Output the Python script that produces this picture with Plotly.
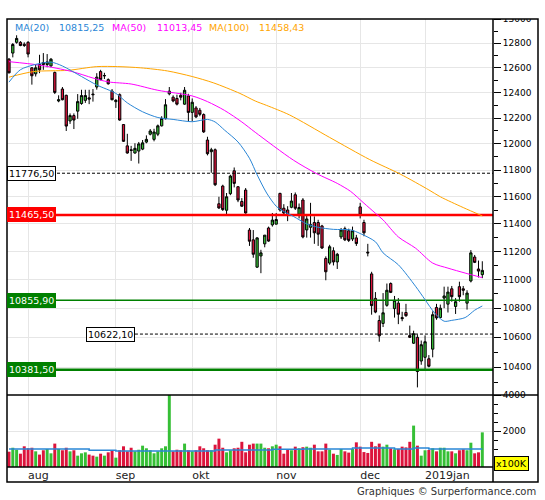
import math
import plotly.graph_objects as go

# ---------------- data ----------------
opens = [12670, 12720, 12808, 12808, 12792, 12808, 12600, 12552, 12627, 12643,
         12627, 12616, 12563, 12335, 12430, 12380, 12178, 12220, 12255, 12315,
         12340, 12360, 12390, 12446, 12570, 12535, 12505, 12413, 12330, 12385,
         12150, 11985, 11955, 11930, 11945, 11960, 12014, 12075, 12035, 12075,
         12140, 12195, 12392, 12365, 12355, 12380, 12310, 12375, 12245, 12280,
         12262, 12228, 12030, 11940, 11955, 11548, 11680, 11500, 11623, 11795,
         11675, 11565, 11650, 11355, 11284, 11088, 11168, 11255, 11370, 11393,
         11398, 11625, 11515, 11502, 11522, 11615, 11470, 11576, 11356, 11375,
         11410, 11410, 11385, 11150, 11117, 11205, 11125, 11305, 11365, 11350,
         11290, 11298, 11525, 11410, 11195, 11040, 10868, 10715, 10695, 10820,
         10972, 10797, 10835, 10735, 10770, 10612, 10560, 10600, 10440, 10465,
         10455, 10520, 10805, 10735, 10870, 10828, 10935, 10812, 10950, 10935,
         10835, 10990, 11160, 11075, 11035]
highs = [12680, 12802, 12866, 12818, 12808, 12818, 12605, 12627, 12706, 12720,
         12712, 12680, 12570, 12380, 12446, 12385, 12237, 12237, 12390, 12424,
         12424, 12424, 12430, 12557, 12584, 12560, 12515, 12430, 12350, 12395,
         12150, 12078, 11985, 12005, 12015, 12030, 12066, 12115, 12117, 12150,
         12215, 12350, 12446, 12380, 12385, 12400, 12446, 12392, 12355, 12295,
         12280, 12237, 12055, 11970, 11965, 11600, 11690, 11628, 11765, 11820,
         11680, 11590, 11665, 11370, 11355, 11303, 11212, 11318, 11380, 11480,
         11480, 11630, 11545, 11530, 11628, 11632, 11550, 11590, 11460, 11555,
         11455, 11430, 11393, 11165, 11248, 11230, 11190, 11370, 11380, 11365,
         11380, 11320, 11555, 11430, 11255, 11055, 10912, 10750, 10905, 10972,
         10980, 10885, 10870, 10775, 10830, 10680, 10645, 10620, 10578, 10613,
         10480, 10778, 10830, 10825, 10950, 10950, 10955, 10870, 10985, 10955,
         10925, 11210, 11175, 11135, 11130]
lows = [12555, 12685, 12797, 12776, 12770, 12685, 12465, 12530, 12557, 12584,
        12605, 12605, 12390, 12325, 12340, 12100, 12155, 12115, 12195, 12305,
        12320, 12310, 12330, 12425, 12500, 12510, 12465, 12340, 12280, 12180,
        12015, 11925, 11870, 11925, 11850, 11952, 12005, 12066, 12020, 12060,
        12135, 12190, 12380, 12325, 12300, 12340, 12305, 12170, 12175, 12200,
        12215, 12085, 11912, 11780, 11680, 11510, 11495, 11470, 11612, 11670,
        11560, 11525, 11475, 11240, 11155, 11083, 11045, 11230, 11270, 11380,
        11398, 11490, 11465, 11420, 11515, 11502, 11440, 11295, 11300, 11300,
        11255, 11240, 11218, 10995, 11105, 11100, 11075, 11290, 11275, 11268,
        11275, 11240, 11440, 11310, 11165, 10755, 10765, 10570, 10670, 10810,
        10905, 10735, 10690, 10710, 10740, 10595, 10555, 10265, 10415, 10380,
        10398, 10465, 10720, 10735, 10800, 10770, 10845, 10760, 10845, 10890,
        10790, 10980, 11117, 11015, 11010]
closes = [12560, 12790, 12840, 12782, 12782, 12712, 12536, 12600, 12584, 12627,
          12648, 12670, 12403, 12345, 12345, 12138, 12220, 12185, 12330, 12378,
          12378, 12350, 12385, 12525, 12505, 12538, 12472, 12345, 12340, 12185,
          12020, 11930, 11950, 11966, 12000, 12008, 12035, 12100, 12092, 12140,
          12198, 12305, 12413, 12335, 12310, 12365, 12420, 12245, 12325, 12210,
          12230, 12093, 11925, 11955, 11690, 11517, 11505, 11600, 11755, 11700,
          11576, 11530, 11480, 11274, 11180, 11298, 11190, 11318, 11275, 11428,
          11432, 11502, 11480, 11468, 11568, 11515, 11520, 11305, 11436, 11395,
          11335, 11325, 11225, 11055, 11234, 11125, 11180, 11355, 11284, 11280,
          11350, 11257, 11465, 11335, 11190, 10818, 10773, 10610, 10768, 10925,
          10910, 10855, 10758, 10728, 10748, 10600, 10625, 10370, 10550, 10570,
          10405, 10755, 10733, 10800, 10885, 10912, 10880, 10845, 10880, 10925,
          10905, 11190, 11122, 11060, 11065]
# volume in units of 100K
volumes = [850, 1070, 960, 740, 1150, 1040, 1070, 870, 690, 930,
           1000, 760, 1300, 1000, 930, 1070, 870, 930, 630, 760,
           815, 690, 630, 575, 740, 630, 815, 930, 520, 930,
           1150, 870, 1070, 870, 960, 1185, 1040, 930, 760, 870,
           1040, 1150, 4500, 870, 960, 930, 1300, 930, 870, 930,
           1150, 1040, 930, 930, 1240, 1575, 1070, 815, 930, 1040,
           1070, 1400, 815, 1240, 1300, 1300, 1300, 1070, 1040, 1150,
           1240, 1150, 740, 1000, 930, 1130, 1040, 1100, 1130, 1070,
           1240, 870, 870, 1300, 960, 740, 670, 1000, 870, 800,
           1000, 1370, 1130, 830, 780, 1400, 1150, 1300, 1130, 1240,
           1040, 980, 1000, 1130, 1090, 1400, 2300, 1185, 630, 930,
           945, 1040, 870, 1070, 1070, 870, 870, 760, 930, 980,
           930, 1350, 760, 815, 1925]

# moving averages (candle index, value)
ma20_idx = [0, 3, 7, 11, 14, 19, 23, 28, 31, 35, 39, 43, 48, 52, 54, 56.5, 60, 63, 65,
            67.5, 70, 72, 74.5, 78, 81, 85, 89.5, 92, 96, 98, 102, 106.5, 109, 111.5,
            114, 116, 119.5, 122, 124]
ma20_val = [12485, 12585, 12628, 12646, 12615, 12530, 12462, 12395, 12320, 12250, 12205,
            12190, 12172, 12190, 12170, 12106, 12015, 11890, 11765, 11628, 11530, 11490,
            11455, 11400, 11375, 11360, 11356, 11330, 11270, 11190, 11105, 10953, 10859,
            10767, 10710, 10716, 10735, 10786, 10815.25]
ma50_idx = [0, 8, 16.5, 22, 26, 32, 39, 48, 52, 56.5, 61, 64.5, 74.5, 80.5, 86, 89.5, 93,
            96, 98, 102, 106.5, 111, 115, 119.5, 124]
ma50_val = [12650, 12622, 12570, 12518, 12487, 12470, 12420, 12375, 12330, 12260, 12170,
            12090, 11876, 11775, 11700, 11640, 11552, 11478, 11429, 11305, 11224, 11117,
            11081, 11046, 11013.45]
ma100_idx = [0, 6.5, 15.5, 23, 28.5, 34.5, 41.5, 48, 53.5, 60.5, 64.5, 67.5, 73.5, 84,
             94.5, 102.5, 110, 113, 119, 124]
ma100_val = [12525, 12570, 12580, 12610, 12610, 12600, 12575, 12530, 12480, 12395, 12335,
             12300, 12225, 12050, 11880, 11770, 11651, 11600, 11520, 11458.43]
ma_last = [10815.25, 11013.45, 11458.43]

# volume average (step line)
vol_ma_idx = [0, 21, 28, 54, 69, 77, 90, 101, 106, 110, 117, 124]
vol_ma_val = [1000, 925, 890, 945, 980, 1000, 1050, 1000, 1050, 1000, 1000, 1000]

# horizontal levels
levels = [11776.50, 11465.50, 10855.90, 10622.10, 10381.50]
level_start = [None, None, None, 33, None]

month_idx = [5, 28, 48, 70, 92, 109]
month_labels = ["aug", "sep", "okt", "nov", "dec", "2019jan"]
price_ticks = [10400, 10600, 10800, 11000, 11200, 11400, 11600, 11800, 12000,
               12200, 12400, 12600, 12800, 13000]
price_minor = [10300, 10500, 10700, 10900, 11100, 11300, 11500, 11700, 11900,
               12100, 12300, 12500, 12700, 12900]
vol_ticks = [2000, 4000]
vol_minor = [500, 1000, 1500, 2500, 3000, 3500]

# ---------------- style ----------------
GREEN = "#36bf36"
RED = "#dc143c"
BLUE = "#2a86d6"
MAGENTA = "#ff00ff"
ORANGE = "#ffa500"
GRID = "#e6e6e6"
FONT = "DejaVu Sans"

N = len(closes)
idx = list(range(N))
X_LO, X_HI = -0.52, 126.8
P_LO, P_HI = 10215, 13001
VOL_FRAC = 72 / 448

def fmt(v):
    return f"{v:.2f}".replace(".", ",")

fig = go.Figure()

# level lines (below candles)
level_styles = [
    dict(color="black", width=1, dash="3px,2px"),
    dict(color="#ff0000", width=2.5),
    dict(color="#008000", width=1.5),
    dict(color="black", width=1, dash="3px,2px"),
    dict(color="#008000", width=2.5),
]
for lv, st, ls in zip(levels, level_styles, level_start):
    x0 = X_LO if ls is None else ls
    fig.add_trace(go.Scatter(x=[x0, X_HI], y=[lv, lv], mode="lines", line=st,
                             xaxis="x", yaxis="y", hoverinfo="skip"))

fig.add_trace(go.Candlestick(
    x=idx, open=opens, high=highs, low=lows, close=closes,
    increasing=dict(line=dict(color="black", width=1), fillcolor=GREEN),
    decreasing=dict(line=dict(color="black", width=1), fillcolor=RED),
    whiskerwidth=0, xaxis="x", yaxis="y", hoverinfo="skip"))

for xs, ys, col in [(ma100_idx, ma100_val, ORANGE), (ma50_idx, ma50_val, MAGENTA),
                    (ma20_idx, ma20_val, BLUE)]:
    fig.add_trace(go.Scatter(x=xs, y=ys, mode="lines",
                             line=dict(color=col, width=1, shape="spline", smoothing=0.8),
                             xaxis="x", yaxis="y", hoverinfo="skip"))

vol_colors = [GREEN if c >= o else RED for o, c in zip(opens, closes)]
fig.add_trace(go.Bar(x=idx, y=volumes, marker=dict(color=vol_colors, line=dict(width=0)),
                     xaxis="x2", yaxis="y2", hoverinfo="skip"))
fig.add_trace(go.Scatter(x=vol_ma_idx, y=vol_ma_val, mode="lines",
                         line=dict(color=BLUE, width=1.5, shape="hv"),
                         xaxis="x2", yaxis="y2", hoverinfo="skip"))

# annotations
ann = []
legend_items = [("MA(20)", BLUE, 13), (fmt(ma_last[0]), BLUE, 57),
                ("MA(50)", MAGENTA, 110), (fmt(ma_last[1]), MAGENTA, 155),
                ("MA(100)", ORANGE, 207), (fmt(ma_last[2]), ORANGE, 257)]
for txt, col, px in legend_items:
    ann.append(dict(text=txt, x=(px - 7) / 486, y=(467 - 27) / 448, xref="paper", yref="paper",
                    xanchor="left", yanchor="middle", showarrow=False,
                    font=dict(family=FONT, size=9.5, color=col)))

box_styles = [
    dict(bgcolor="white", bordercolor="black", fc="black"),
    dict(bgcolor="#ff0000", bordercolor="#ff0000", fc="white"),
    dict(bgcolor="#008000", bordercolor="#008000", fc="white"),
    dict(bgcolor="white", bordercolor="black", fc="black"),
    dict(bgcolor="#008000", bordercolor="#008000", fc="white"),
]
for lv, bs, ls in zip(levels, box_styles, level_start):
    ann.append(dict(text=fmt(lv), x=(X_LO if ls is None else ls), y=math.log10(lv),
                    xref="x", yref="y", xanchor="left" if ls is None else "right",
                    yanchor="middle", showarrow=False, bgcolor=bs["bgcolor"],
                    bordercolor=bs["bordercolor"], borderwidth=1, borderpad=1,
                    font=dict(family=FONT, size=9.5, color=bs["fc"])))

ann.append(dict(text="x100K", x=(494 - 7) / 486, y=(467 - 463.5) / 448, xref="paper",
                yref="paper", xanchor="left", yanchor="middle", showarrow=False,
                bgcolor="#ffff00", bordercolor="black", borderwidth=1, borderpad=1,
                font=dict(family=FONT, size=9.5, color="black")))
ann.append(dict(text="Graphiques © Surperformance.com", x=(538 - 7) / 486,
                y=(467 - 491) / 448, xref="paper", yref="paper", xanchor="right",
                yanchor="middle", showarrow=False,
                font=dict(family=FONT, size=10, color="#333333")))

XR = (538 - 7) / 486
YB = (467 - 482) / 448
shapes = [
    dict(type="rect", xref="paper", yref="paper", x0=1.0, x1=1.2, y0=1.0, y1=1.1,
         fillcolor="white", line=dict(width=0), layer="above"),
    dict(type="rect", xref="paper", yref="paper", x0=0, x1=XR, y0=YB, y1=1.0,
         line=dict(color="black", width=1.5), layer="above"),
    dict(type="line", xref="paper", yref="paper", x0=1.0, x1=1.0, y0=YB, y1=1.0,
         line=dict(color="black", width=1.5), layer="above"),
    dict(type="line", xref="paper", yref="paper", x0=0, x1=XR, y0=VOL_FRAC, y1=VOL_FRAC,
         line=dict(color="black", width=1.5), layer="above"),
    dict(type="line", xref="paper", yref="paper", x0=0, x1=1.0, y0=0, y1=0,
         line=dict(color="black", width=1.5), layer="above"),
]

fig.update_layout(
    width=545, height=500, margin=dict(l=7, r=52, t=19, b=33),
    paper_bgcolor="white", plot_bgcolor="white", showlegend=False,
    boxgap=0.15, bargap=0.22,
    font=dict(family=FONT, size=9, color="black"),
    annotations=ann, shapes=shapes,
    xaxis=dict(domain=[0, 1], anchor="y", range=[X_LO, X_HI], showticklabels=False,
               tickmode="array", tickvals=month_idx, showgrid=True, gridcolor=GRID,
               zeroline=False, ticks="", showline=False, rangeslider=dict(visible=False)),
    xaxis2=dict(domain=[0, 1], anchor="y2", range=[X_LO, X_HI], matches="x",
                tickmode="array", tickvals=month_idx, ticktext=month_labels,
                ticklabelposition="outside right", showgrid=True, gridcolor=GRID,
                zeroline=False, ticks="", showline=False,
                tickfont=dict(family=FONT, size=11, color="#222222")),
    yaxis=dict(domain=[VOL_FRAC, 1], anchor="x", type="log", side="right",
               range=[math.log10(P_LO), math.log10(P_HI)], tickmode="array",
               tickvals=price_ticks, ticktext=[str(t) for t in price_ticks],
               ticks="outside", ticklen=7, tickcolor="black", showgrid=True,
               gridcolor=GRID, zeroline=False, showline=False,
               minor=dict(tickmode="array", tickvals=price_minor, ticks="outside",
                          ticklen=4, tickcolor="black", showgrid=False),
               tickfont=dict(family=FONT, size=9, color="black")),
    yaxis2=dict(domain=[0, VOL_FRAC], anchor="x2", side="right", range=[0, 4000],
                tickmode="array", tickvals=vol_ticks, ticks="outside", ticklen=7,
                tickcolor="black", showgrid=True, gridcolor=GRID, zeroline=False,
                showline=False,
                minor=dict(tickmode="array", tickvals=vol_minor, ticks="outside",
                           ticklen=4, tickcolor="black", showgrid=False),
                tickfont=dict(family=FONT, size=9, color="black")),
)

fig.write_html("out.html", config={"displayModeBar": False},
               post_script="document.body.style.margin='0';document.body.style.padding='0';")
